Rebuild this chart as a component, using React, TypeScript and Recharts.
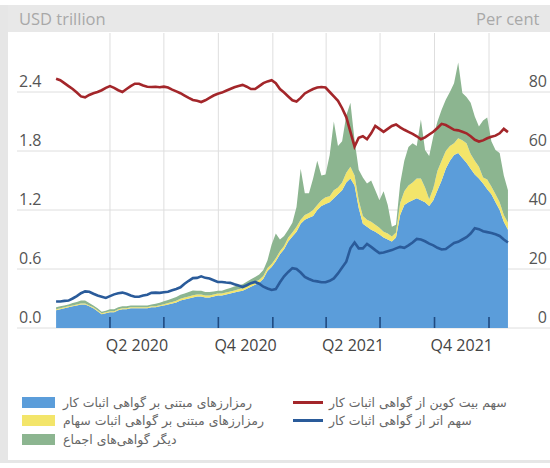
import React from 'react';
import { ComposedChart, Area, Line, XAxis, YAxis, CartesianGrid } from 'recharts';

// weekly observations, counted from 1 Jan 2020
const START = Date.parse('2020-01-01');
const WEEKS = 110;
const X_DOMAIN: [number, number] = [-66, 834];

// USD trillion, stacked
const powCap = [
  0.18, 0.19, 0.2, 0.21, 0.22, 0.23, 0.24, 0.24, 0.22, 0.2,
  0.17, 0.14, 0.15, 0.16, 0.16, 0.18, 0.19, 0.19, 0.2, 0.2,
  0.2, 0.2, 0.2, 0.21, 0.21, 0.22, 0.23, 0.24, 0.25, 0.26,
  0.28, 0.29, 0.3, 0.31, 0.32, 0.32, 0.31, 0.31, 0.32, 0.33,
  0.33, 0.34, 0.35, 0.36, 0.37, 0.38, 0.4, 0.42, 0.44, 0.46,
  0.5, 0.58, 0.62, 0.68, 0.75, 0.8, 0.88, 0.93, 0.98, 1.06,
  1.1, 1.12, 1.14, 1.2, 1.24, 1.26, 1.28, 1.32, 1.36, 1.4,
  1.48, 1.52, 1.45, 1.22, 1.06, 1.03, 1.0, 0.98, 0.95, 0.92,
  0.9, 0.88, 0.92, 1.15, 1.25, 1.28, 1.3, 1.32, 1.3, 1.28,
  1.24, 1.3, 1.4, 1.5, 1.62, 1.7, 1.76, 1.78, 1.73, 1.68,
  1.62, 1.56, 1.52, 1.47, 1.41, 1.36, 1.28, 1.2, 1.08, 1.0,
];
const posCap = [
  0.01, 0.01, 0.01, 0.01, 0.01, 0.01, 0.01, 0.01, 0.01, 0.01,
  0.01, 0.01, 0.01, 0.01, 0.01, 0.01, 0.01, 0.01, 0.01, 0.01,
  0.01, 0.01, 0.01, 0.01, 0.012, 0.012, 0.012, 0.014, 0.015, 0.016,
  0.018, 0.02, 0.02, 0.022, 0.02, 0.02, 0.02, 0.02, 0.02, 0.02,
  0.02, 0.02, 0.022, 0.022, 0.024, 0.025, 0.025, 0.026, 0.028, 0.03,
  0.03, 0.03, 0.03, 0.03, 0.03, 0.035, 0.04, 0.04, 0.05, 0.04,
  0.05, 0.05, 0.06, 0.05, 0.06, 0.07, 0.06, 0.08, 0.07, 0.08,
  0.1, 0.12, 0.1, 0.08, 0.08, 0.07, 0.08, 0.07, 0.07, 0.06,
  0.06, 0.05, 0.05, 0.12, 0.14, 0.17, 0.18, 0.2, 0.22, 0.15,
  0.07, 0.12, 0.2, 0.2, 0.18, 0.15, 0.12, 0.15, 0.18, 0.2,
  0.15, 0.14, 0.12, 0.06, 0.1, 0.08, 0.08, 0.08, 0.07, 0.07,
];
const otherCap = [
  0.02, 0.02, 0.02, 0.02, 0.025, 0.025, 0.03, 0.03, 0.025, 0.02,
  0.02, 0.015, 0.015, 0.02, 0.02, 0.02, 0.02, 0.02, 0.02, 0.02,
  0.02, 0.02, 0.02, 0.02, 0.025, 0.025, 0.03, 0.03, 0.035, 0.04,
  0.04, 0.04, 0.045, 0.05, 0.04, 0.04, 0.035, 0.035, 0.03, 0.03,
  0.03, 0.035, 0.035, 0.04, 0.04, 0.04, 0.045, 0.05, 0.05, 0.055,
  0.06, 0.08, 0.2, 0.25, 0.12, 0.1, 0.08, 0.1, 0.2, 0.52,
  0.22, 0.2, 0.32, 0.45, 0.25, 0.23, 0.42, 0.7, 0.42, 0.42,
  0.58, 0.65, 0.36, 0.31, 0.39, 0.37, 0.42, 0.35, 0.28, 0.41,
  0.29, 0.1, 0.08, 0.2, 0.31, 0.39, 0.4, 0.33, 0.6, 0.38,
  0.44, 0.53, 0.5, 0.52, 0.52, 0.55, 0.61, 0.77, 0.48, 0.47,
  0.52, 0.45, 0.41, 0.58, 0.63, 0.46, 0.45, 0.5, 0.4, 0.33,
];

// per cent of proof-of-work market cap
const btcShare = [
  84.5, 84.0, 83.0, 82.0, 81.0, 79.8, 78.5, 78.2, 79.0, 79.6,
  80.0, 80.6, 81.4, 82.0, 81.4, 80.6, 80.0, 81.0, 82.0, 82.8,
  82.8, 82.2, 81.8, 81.7, 81.8, 81.6, 81.8, 81.5, 80.8, 80.2,
  79.6, 78.8, 78.0, 77.3, 77.0, 76.6, 77.2, 78.0, 78.8, 79.4,
  79.8, 80.4, 81.0, 81.6, 82.0, 82.4, 81.8, 81.0, 81.0, 82.0,
  83.0, 83.6, 84.0, 83.0, 81.0, 79.8, 78.5, 77.2, 76.8, 78.0,
  79.5, 80.3, 81.0, 81.5, 81.7, 81.5, 80.0, 78.5, 77.0, 74.5,
  71.5, 66.5, 61.5, 64.5, 65.0, 64.0, 66.0, 68.5, 67.5, 66.5,
  67.5, 68.5, 69.0, 68.0, 67.2, 66.5, 65.8, 65.0, 64.0, 64.6,
  65.6, 66.5, 67.8, 69.2, 68.8, 68.0, 67.2, 67.0, 66.5, 66.0,
  65.0, 63.8, 63.2, 63.6, 64.3, 64.8, 65.2, 66.0, 67.5, 66.4,
];
const ethShare = [
  9.0, 9.0, 9.2, 9.3, 10.0, 10.8, 11.8, 12.4, 12.3, 11.6,
  11.0, 10.6, 10.2, 10.8, 11.4, 11.8, 12.0, 11.6, 11.0, 10.6,
  10.6, 11.0, 11.3, 11.9, 12.0, 11.9, 12.1, 12.3, 12.8, 13.2,
  13.8, 15.0, 16.0, 16.9, 17.0, 17.5, 17.0, 16.8, 16.2, 15.6,
  15.6, 15.4, 15.3, 14.8, 14.4, 13.9, 14.5, 15.2, 15.6, 15.0,
  14.0, 13.4, 12.9, 13.2, 15.5, 17.5, 19.0, 20.3, 20.0, 18.8,
  17.3, 16.6, 16.0, 15.8, 15.5, 15.5, 16.0, 16.8, 18.5, 20.5,
  22.5, 27.0, 29.0, 27.0, 27.0, 28.5, 27.5, 26.4, 25.4, 25.6,
  26.0, 26.4, 27.0, 27.5, 27.2, 28.0, 29.0, 30.2, 30.0, 29.4,
  28.6, 28.0, 27.2, 26.6, 26.8, 27.8, 28.8, 29.2, 30.0, 30.8,
  32.0, 33.8, 33.5, 32.8, 32.5, 32.2, 31.8, 31.2, 30.0, 29.0,
];

const quarterStarts = ['2020-04-01', '2020-07-01', '2020-10-01', '2021-01-01', '2021-04-01', '2021-07-01', '2021-10-01', '2022-01-01'];
const quarterLabels = [
  { label: 'Q2 2020', from: '2020-04-01', to: '2020-07-01' },
  { label: 'Q4 2020', from: '2020-10-01', to: '2021-01-01' },
  { label: 'Q2 2021', from: '2021-04-01', to: '2021-07-01' },
  { label: 'Q4 2021', from: '2021-10-01', to: '2022-01-01' },
];
const leftTicks = [0, 0.6, 1.2, 1.8, 2.4];
const rightTicks = [0, 20, 40, 60, 80];

const areaSeries = [
  { key: 'pow', name: 'رمزارزهای مبتنی بر گواهی اثبات کار', color: '#5b9dda' },
  { key: 'pos', name: 'رمزارزهای مبتنی بر گواهی اثبات سهام', color: '#f3e56a' },
  { key: 'other', name: 'دیگر گواهی‌های اجماع', color: '#8cb590' },
];
const lineSeries = [
  { key: 'btc', name: 'سهم بیت کوین از گواهی اثبات کار', color: '#a3262a' },
  { key: 'eth', name: 'سهم اتر از گواهی اثبات کار', color: '#2a5b9a' },
];

const dayOf = (s: string) => Math.round((Date.parse(s) - START) / 86400000);

const data = Array.from({ length: WEEKS }, (_, i) => ({
  day: i * 7,
  pow: powCap[i],
  pos: posCap[i],
  other: otherCap[i],
  btc: btcShare[i],
  eth: ethShare[i],
}));

const boundaryDays = quarterStarts.map(dayOf);
const labelDays = quarterLabels.map((q) => (dayOf(q.from) + dayOf(q.to)) / 2);

const FONT = '"Open Sans", "DejaVu Sans", sans-serif';
const CHART_W = 551;
const CHART_H = 360;
const MARGIN = { top: 33, right: 0, left: 16, bottom: 2 };

// vertical grid at quarter starts, placed with the same linear mapping as the x axis
const quarterGrid = ({ offset }: any) =>
  boundaryDays.map((d) => offset.left + ((d - X_DOMAIN[0]) / (X_DOMAIN[1] - X_DOMAIN[0])) * offset.width);

const XTick = (props: any) => {
  const { x, y, index } = props;
  return (
    <text x={x} y={y + 23} textAnchor="middle" fill="#444" fontSize={16} fontFamily={FONT}>
      {quarterLabels[index]?.label}
    </text>
  );
};

// short upward mark at each quarter start
const MarkTick = (props: any) => (
  <g>
    <line x1={props.x} x2={props.x} y1={props.y - 11} y2={props.y} stroke="#1f4a80" strokeWidth={1.6} />
  </g>
);

const LeftTick = (props: any) => (
  <text x={props.x + 2} y={props.y - 5} textAnchor="start" fill="#555" fontSize={16} fontFamily={FONT}>
    {Number(props.payload.value).toFixed(1)}
  </text>
);

const RightTick = (props: any) => (
  <text x={props.x - 3} y={props.y - 5} textAnchor="end" fill="#555" fontSize={16} fontFamily={FONT}>
    {props.payload.value}
  </text>
);

export default function App() {
  return (
    <div
      style={{
        position: 'absolute',
        left: 0,
        top: 0,
        width: 550,
        height: 468,
        background: '#fff',
        overflow: 'hidden',
        fontFamily: FONT,
      }}
    >
      {/* frame */}
      <div style={{ position: 'absolute', left: 0, top: 5, width: 8, height: 458, background: '#e6e6e6' }} />
      <div style={{ position: 'absolute', left: 8, top: 5, width: 542, height: 27, background: '#e8e8e8' }} />
      <div style={{ position: 'absolute', left: 0, top: 460, width: 550, height: 3, background: '#e6e6e6' }} />
      <div style={{ position: 'absolute', left: 19, top: 7, fontSize: 16.5, color: '#a8a8a8' }}>USD trillion</div>
      <div style={{ position: 'absolute', left: 476, top: 7, fontSize: 16.5, color: '#a8a8a8', whiteSpace: 'nowrap' }}>
        Per cent
      </div>

      <div style={{ position: 'absolute', left: 0, top: 0 }}>
        <ComposedChart width={CHART_W} height={CHART_H} data={data} margin={MARGIN}>
          <CartesianGrid
            yAxisId="left"
            stroke="#dedede"
            horizontalValues={leftTicks}
            verticalCoordinatesGenerator={quarterGrid}
          />
          <XAxis
            dataKey="day"
            type="number"
            domain={X_DOMAIN}
            allowDataOverflow
            ticks={labelDays}
            interval={0}
            tick={<XTick />}
            tickSize={0}
            tickMargin={0}
            axisLine={false}
            tickLine={false}
            height={30}
          />
          <YAxis
            yAxisId="left"
            domain={[0, 3]}
            ticks={leftTicks}
            width={1}
            tick={<LeftTick />}
            tickSize={0}
            tickMargin={0}
            axisLine={false}
            tickLine={false}
          />
          <YAxis
            yAxisId="right"
            orientation="right"
            domain={[0, 100]}
            ticks={rightTicks}
            width={1}
            tick={<RightTick />}
            tickSize={0}
            tickMargin={0}
            axisLine={false}
            tickLine={false}
          />
          {areaSeries.map((s) => (
            <Area
              key={s.key}
              yAxisId="left"
              dataKey={s.key}
              name={s.name}
              stackId="cap"
              type="linear"
              stroke="none"
              fill={s.color}
              fillOpacity={1}
              isAnimationActive={false}
            />
          ))}
          {lineSeries.map((s) => (
            <Line
              key={s.key}
              yAxisId="right"
              dataKey={s.key}
              name={s.name}
              type="linear"
              stroke={s.color}
              strokeWidth={2.6}
              dot={false}
              isAnimationActive={false}
            />
          ))}
        </ComposedChart>
      </div>

      {/* transparent overlay carrying only the quarter tick marks, so they sit above the areas */}
      <div style={{ position: 'absolute', left: 0, top: 0, pointerEvents: 'none' }}>
        <ComposedChart width={CHART_W} height={CHART_H} data={data} margin={MARGIN}>
          <XAxis
            dataKey="day"
            type="number"
            domain={X_DOMAIN}
            allowDataOverflow
            ticks={boundaryDays}
            interval={0}
            tick={<MarkTick />}
            tickSize={0}
            tickMargin={0}
            axisLine={false}
            tickLine={false}
            height={30}
          />
          <YAxis yAxisId="left" domain={[0, 3]} width={1} tick={false} axisLine={false} tickLine={false} />
          <YAxis yAxisId="right" orientation="right" domain={[0, 100]} width={1} tick={false} axisLine={false} tickLine={false} />
          <Line yAxisId="right" dataKey="btc" stroke="transparent" dot={false} activeDot={false} isAnimationActive={false} />
        </ComposedChart>
      </div>

      {/* legend */}
      <div style={{ position: 'absolute', left: 22, top: 393, fontFamily: '"DejaVu Sans", sans-serif', fontSize: 12.5, color: '#666' }}>
        {areaSeries.map((s) => (
          <div key={s.key} style={{ display: 'flex', alignItems: 'center', height: 18.5 }}>
            <span style={{ display: 'inline-block', width: 33, height: 11, background: s.color, marginRight: 8 }} />
            <span dir="rtl">{s.name}</span>
          </div>
        ))}
      </div>
      <div style={{ position: 'absolute', left: 293, top: 393, fontFamily: '"DejaVu Sans", sans-serif', fontSize: 12.5, color: '#666' }}>
        {lineSeries.map((s) => (
          <div key={s.key} style={{ display: 'flex', alignItems: 'center', height: 18.5 }}>
            <span style={{ display: 'inline-block', width: 30, height: 3, background: s.color, marginRight: 6 }} />
            <span dir="rtl">{s.name}</span>
          </div>
        ))}
      </div>
    </div>
  );
}
